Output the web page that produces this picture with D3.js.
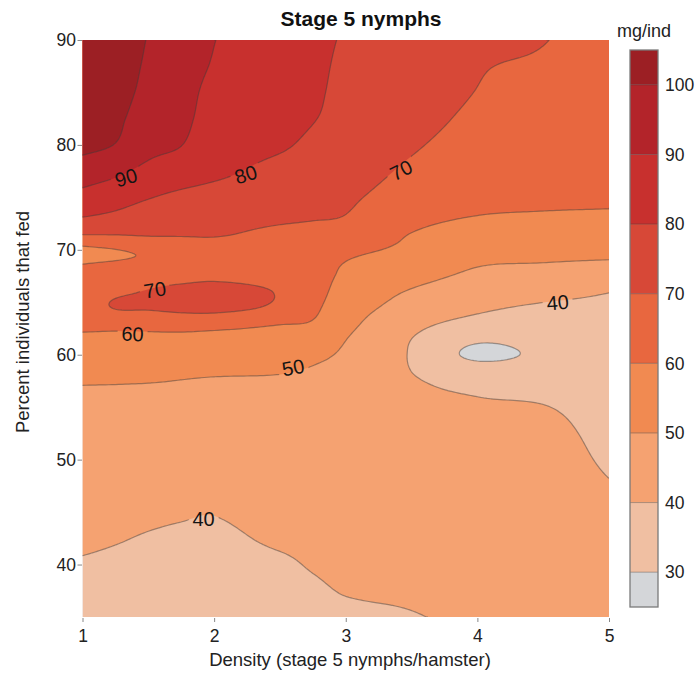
<!DOCTYPE html>
<html>
<head>
<meta charset="utf-8">
<script src="https://cdn.jsdelivr.net/npm/d3@7"></script>
<style>
  body { margin: 0; background: #fff; }
  svg { display: block; font-family: "Liberation Sans", Arial, sans-serif; }
</style>
</head>
<body>
<div id="chart"></div>
<script>
// Grid: columns = density, rows = percent fed (bottom to top), values = mg/ind
const densityCols = [1, 1.25, 1.5, 1.75, 2, 2.5, 2.75, 3, 3.5, 4, 4.5, 5];
const fedRows = [35, 37.5, 40, 42.5, 45, 47.5, 50, 52.5, 55, 57, 58.5, 60, 61.5, 63, 64.5,
                 66, 67.5, 68.5, 69.5, 70.5, 71.5, 73, 75, 77.5, 80, 82.5, 85, 87.5, 90];

const mgD1_00 = [37, 38, 39.3, 41.5, 43, 44.5, 46, 47, 48.5, 49.9, 52.5, 55.5, 58.5, 62, 65, 65.5, 63.5, 60.5, 57, 61, 70.5, 79.5, 87, 95, 102.5, 103.5, 104, 104.5, 105];
const mgD1_25 = [36.8, 37.5, 38.6, 40.5, 42.3, 44, 45.8, 47, 48.5, 49.8, 52.5, 55.8, 58.5, 62.2, 70.5, 68.5, 64.5, 62, 58.5, 62.5, 70.5, 77.5, 84, 92, 99.7, 101.5, 102.5, 103, 103.5];
const mgD1_50 = [36.5, 37, 38, 39.5, 41.5, 43.5, 45.5, 47, 48.5, 49.6, 52.5, 56, 58.5, 62.5, 71, 70.5, 66, 63.5, 61, 65, 71, 75, 80.5, 87.5, 93, 96, 98, 99, 99.7];
const mgD1_75 = [36, 36.5, 37.5, 38.8, 40.8, 43, 45, 46.5, 48, 49.3, 51.5, 55.5, 58, 63.5, 72.5, 72.5, 67, 64.5, 63.5, 66, 71, 74.5, 78, 85, 90.2, 92.5, 93.5, 94.5, 95.5];
const mgD2_00 = [35.5, 36, 37, 38.3, 40.3, 42.5, 44.5, 46, 47.5, 49, 51, 55, 57.5, 63, 73, 73.5, 68, 65.5, 65, 67, 71, 73.5, 76.5, 82, 84, 86, 87.5, 89.3, 90.2];
const mgD2_50 = [35.5, 36.5, 38.5, 41.5, 43.5, 45, 46, 47, 48, 49, 50.5, 53.5, 57, 60.5, 68, 69.3, 66, 65, 64.5, 65.5, 67.5, 71.5, 74, 77.5, 81, 82.5, 83.5, 84, 84.5];
const mgD2_75 = [37, 38.5, 40.8, 43, 44.5, 45.5, 46, 46.7, 47.5, 48.3, 49.5, 51.5, 55, 59.3, 62, 63.5, 63.5, 63.5, 64, 65, 66.5, 70.5, 72.5, 75.5, 78.5, 80.3, 81, 81.3, 81.5];
const mgD3_00 = [38, 40.5, 42.5, 44, 45, 45.5, 46, 46.5, 47, 47.5, 48, 48.8, 50.2, 52.5, 54.5, 56.5, 58.5, 59.5, 61, 63.5, 66, 69.5, 71.5, 74.5, 77, 78, 78.5, 79, 79.5];
const mgD3_50 = [39.5, 41.5, 43, 44, 44.5, 44.5, 44, 43.5, 42.5, 41.3, 39.9, 39.3, 40, 42.8, 46.5, 49.3, 53, 55.3, 57.3, 58.8, 59.8, 62.5, 65.5, 68.5, 71, 73, 74.5, 75.5, 76];
const mgD4_00 = [42, 43.5, 44.5, 45, 45, 44.8, 44, 42.5, 41, 38.5, 34.5, 28, 31.5, 37.5, 41.5, 45, 48.3, 50.3, 52.5, 54.5, 56.5, 59.5, 63, 65.5, 67, 68.5, 69.8, 70.6, 72];
const mgD4_50 = [44, 44.5, 45, 45, 44.8, 44.3, 43.5, 42.3, 40.3, 37.5, 35.5, 32, 34, 36.8, 39, 42.5, 46.5, 49.3, 51.8, 54, 56, 58.8, 62, 64.5, 66, 67.2, 68, 69, 70.3];
const mgD5_00 = [45, 44.5, 44, 43.2, 42.3, 40.5, 38.8, 37.5, 36.5, 35.8, 35.5, 35.5, 36, 37, 38.5, 40.2, 44.5, 48, 51.5, 54, 56, 58.5, 61.5, 63, 64, 64.8, 65.3, 65.7, 66];

const mgColumns = [mgD1_00, mgD1_25, mgD1_50, mgD1_75, mgD2_00, mgD2_50, mgD2_75, mgD3_00, mgD3_50, mgD4_00, mgD4_50, mgD5_00];

const levels = [25, 30, 40, 50, 60, 70, 80, 90, 100, 105];
const bandColors = ['#d4d6d9', '#f0bfa2', '#f5a271', '#f18a51', '#e8673f', '#d74837', '#c8302e', '#b3242a', '#9c1f24'];
const legendTicks = [30, 40, 50, 60, 70, 80, 90, 100];
const xTicks = [1, 2, 3, 4, 5];
const yTicks = [40, 50, 60, 70, 80, 90];

// inline contour labels: density, percent fed, level, angle
const contourLabels = [
  { x: 1.33, y: 76.9, v: 90, a: -16 },
  { x: 2.24, y: 77.2, v: 80, a: -18 },
  { x: 3.42, y: 77.6, v: 70, a: -27 },
  { x: 1.55, y: 66.2, v: 70, a: -9 },
  { x: 1.38, y: 62.0, v: 60, a: 2 },
  { x: 2.6,  y: 58.8, v: 50, a: -11 },
  { x: 4.61, y: 65.0, v: 40, a: -5 },
  { x: 1.92, y: 44.4, v: 40, a: 0 }
];

const W = 696, H = 673;
const svg = d3.select('#chart').append('svg').attr('width', W).attr('height', H);

const x = d3.scaleLinear().domain([1, 5]).range([82.5, 609]);
const y = d3.scaleLinear().domain([35, 90]).range([617, 40]);

// smooth the read grid onto a fine regular grid (cubic Hermite, centred slopes)
function interp1(xs, fs, q) {
  const n = xs.length;
  let i = Math.max(0, Math.min(n - 2, d3.bisectRight(xs, q) - 1));
  const h = xs[i + 1] - xs[i], t = (q - xs[i]) / h;
  const slope = k => k <= 0 ? (fs[1] - fs[0]) / (xs[1] - xs[0])
    : k >= n - 1 ? (fs[n - 1] - fs[n - 2]) / (xs[n - 1] - xs[n - 2])
    : (fs[k + 1] - fs[k - 1]) / (xs[k + 1] - xs[k - 1]);
  const t2 = t * t, t3 = t2 * t;
  return (2 * t3 - 3 * t2 + 1) * fs[i] + (t3 - 2 * t2 + t) * h * slope(i)
       + (-2 * t3 + 3 * t2) * fs[i + 1] + (t3 - t2) * h * slope(i + 1);
}
const dxF = 0.025, dyF = 0.1;
const nx = Math.round(4 / dxF) + 1, ny = Math.round(55 / dyF) + 1;
const fineX = d3.range(nx).map(i => 1 + i * dxF);
const fineY = d3.range(ny).map(j => 35 + j * dyF);
const colsFine = mgColumns.map(col => fineY.map(q => interp1(fedRows, col, q)));
const grid = new Array(nx * ny);
for (let j = 0; j < ny; j++) {
  const rowVals = colsFine.map(c => c[j]);
  for (let i = 0; i < nx; i++) grid[j * nx + i] = interp1(densityCols, rowVals, fineX[i]);
}

const px = p => x(1 + Math.max(0, Math.min(nx - 1, p - 0.5)) * dxF);
const py = p => y(35 + Math.max(0, Math.min(ny - 1, p - 0.5)) * dyF);

const contours = d3.contours().size([nx, ny]).thresholds(levels.slice(1, -1))(grid);

const defs = svg.append('defs');
defs.append('clipPath').attr('id', 'plotClip')
  .append('rect').attr('x', x(1)).attr('y', y(90)).attr('width', x(5) - x(1)).attr('height', y(35) - y(90));

const plot = svg.append('g').attr('clip-path', 'url(#plotClip)');

// lowest band underneath everything
plot.append('rect')
  .attr('x', x(1)).attr('y', y(90)).attr('width', x(5) - x(1)).attr('height', y(35) - y(90))
  .attr('fill', bandColors[0]);

const fillPath = geom => geom.coordinates.map(poly => poly.map(ring =>
  'M' + ring.map(p => px(p[0]).toFixed(2) + ',' + py(p[1]).toFixed(2)).join('L') + 'Z').join('')).join('');

plot.selectAll('path.band')
  .data(contours)
  .enter().append('path')
  .attr('class', 'band')
  .attr('d', fillPath)
  .attr('fill', (d, i) => bandColors[i + 1])
  .attr('fill-rule', 'evenodd');

// contour lines, leaving out the pieces lying on the plot border
const onEdge = p => (p[0] === 0 ? 'l' : p[0] === nx ? 'r' : '') + (p[1] === 0 ? 'b' : p[1] === ny ? 't' : '');
const sameEdge = (a, b) => {
  const ea = onEdge(a), eb = onEdge(b);
  return ea && eb && [...ea].some(c => eb.includes(c));
};
const linePath = geom => {
  let s = '';
  geom.coordinates.forEach(poly => poly.forEach(ring => {
    let pen = false;
    for (let k = 1; k < ring.length; k++) {
      const a = ring[k - 1], b = ring[k];
      if (sameEdge(a, b)) { pen = false; continue; }
      if (!pen) s += 'M' + px(a[0]).toFixed(2) + ',' + py(a[1]).toFixed(2);
      s += 'L' + px(b[0]).toFixed(2) + ',' + py(b[1]).toFixed(2);
      pen = true;
    }
  }));
  return s;
};

// mask out the line under each inline label
const mask = defs.append('mask').attr('id', 'labelMask');
mask.append('rect').attr('width', W).attr('height', H).attr('fill', '#fff');
mask.selectAll('rect.hole')
  .data(contourLabels)
  .enter().append('rect')
  .attr('class', 'hole')
  .attr('x', -15).attr('y', -9).attr('width', 30).attr('height', 18)
  .attr('fill', '#000')
  .attr('transform', d => `translate(${x(d.x)},${y(d.y)}) rotate(${d.a})`);

plot.append('g').attr('mask', 'url(#labelMask)')
  .selectAll('path.line')
  .data(contours)
  .enter().append('path')
  .attr('class', 'line')
  .attr('d', linePath)
  .attr('fill', 'none')
  .attr('stroke', '#3c3c3c')
  .attr('stroke-width', 1.2)
  .attr('stroke-opacity', 0.45)
  .attr('stroke-linejoin', 'round');

plot.selectAll('text.clabel')
  .data(contourLabels)
  .enter().append('text')
  .attr('class', 'clabel')
  .attr('transform', d => `translate(${x(d.x)},${y(d.y)}) rotate(${d.a})`)
  .attr('text-anchor', 'middle')
  .attr('dy', '0.36em')
  .attr('font-size', 20)
  .attr('fill', '#141414')
  .text(d => d.v);

// axes
const xAxis = svg.append('g').attr('transform', 'translate(0,618)')
  .call(d3.axisBottom(x).tickValues(xTicks).tickFormat(d3.format('d')).tickSize(4).tickPadding(7.5));
const yAxis = svg.append('g').attr('transform', 'translate(82,0)')
  .call(d3.axisLeft(y).tickValues(yTicks).tickFormat(d3.format('d')).tickSize(4.5).tickPadding(1.5));
[xAxis, yAxis].forEach(g => {
  g.select('.domain').remove();
  g.selectAll('.tick line').attr('stroke', '#888');
  g.selectAll('.tick text').attr('font-size', 17.5).attr('fill', '#222')
    .attr('font-family', '"Liberation Sans", Arial, sans-serif');
});

svg.append('text')
  .attr('x', 361).attr('y', 26)
  .attr('text-anchor', 'middle')
  .attr('font-size', 21).attr('font-weight', 'bold').attr('fill', '#111')
  .text('Stage 5 nymphs');

svg.append('text')
  .attr('x', 350).attr('y', 666)
  .attr('text-anchor', 'middle')
  .attr('font-size', 18.5).attr('fill', '#222')
  .text('Density (stage 5 nymphs/hamster)');

svg.append('text')
  .attr('transform', 'translate(29,322) rotate(-90)')
  .attr('text-anchor', 'middle')
  .attr('font-size', 18.5).attr('fill', '#222')
  .text('Percent individuals that fed');

// colour key
const ky = d3.scaleLinear().domain([25, 105]).range([607, 50]);
const key = svg.append('g');
key.selectAll('rect.band')
  .data(bandColors)
  .enter().append('rect')
  .attr('class', 'band')
  .attr('x', 630).attr('width', 28)
  .attr('y', (d, i) => ky(levels[i + 1]))
  .attr('height', (d, i) => ky(levels[i]) - ky(levels[i + 1]))
  .attr('fill', d => d);
key.selectAll('line.sep')
  .data(legendTicks)
  .enter().append('line')
  .attr('class', 'sep')
  .attr('x1', 630).attr('x2', 658)
  .attr('y1', d => ky(d)).attr('y2', d => ky(d))
  .attr('stroke', '#3c3c3c').attr('stroke-opacity', 0.4).attr('stroke-width', 1);
key.append('rect')
  .attr('x', 630).attr('y', ky(105)).attr('width', 28).attr('height', ky(25) - ky(105))
  .attr('fill', 'none').attr('stroke', '#7a7a7a').attr('stroke-width', 1.3);
key.selectAll('text.kt')
  .data(legendTicks)
  .enter().append('text')
  .attr('class', 'kt')
  .attr('x', 665).attr('y', d => ky(d))
  .attr('dy', '0.36em')
  .attr('font-size', 17.5).attr('fill', '#222')
  .text(d => d);
key.append('text')
  .attr('x', 644).attr('y', 37)
  .attr('text-anchor', 'middle')
  .attr('font-size', 18).attr('fill', '#222')
  .text('mg/ind');
</script>
</body>
</html>
